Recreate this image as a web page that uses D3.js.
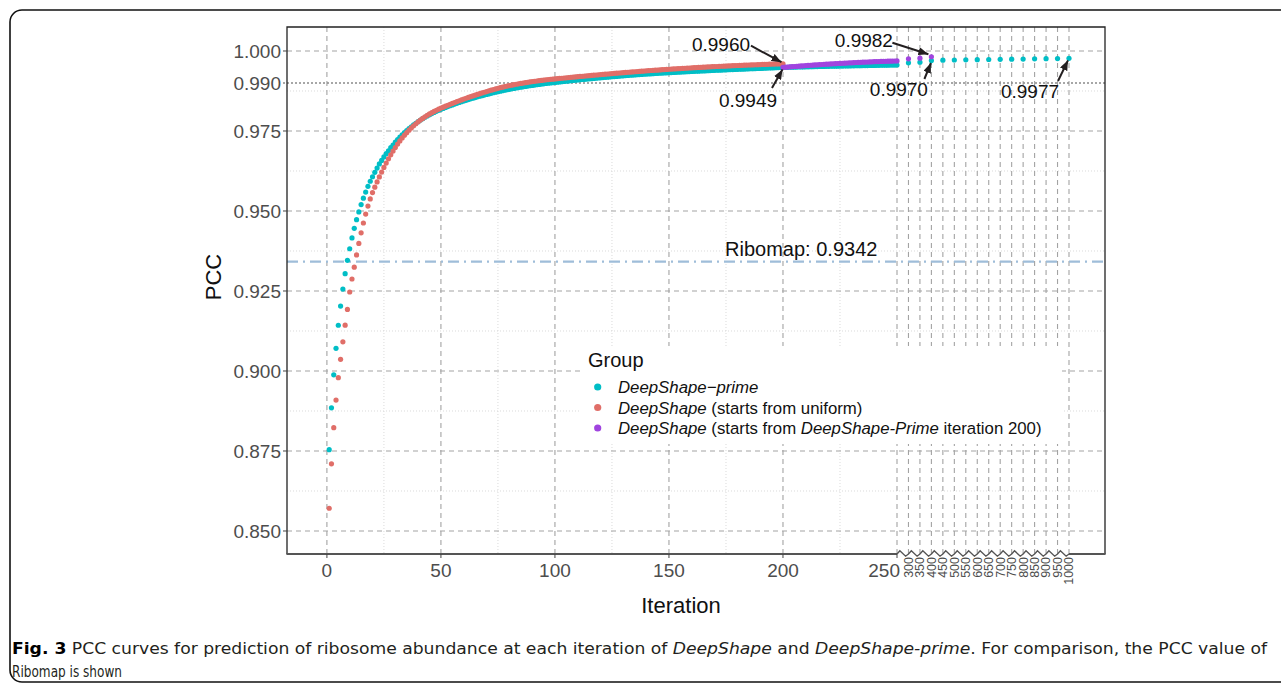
<!DOCTYPE html>
<html><head><meta charset="utf-8">
<script src="https://cdn.jsdelivr.net/npm/d3@7"></script>
<style>
body{margin:0;background:#fff;}
svg{display:block;font-family:"Liberation Sans",Arial,Helvetica,sans-serif;}
text{white-space:pre;}
</style></head><body>
<svg id="chart" width="1281" height="687"></svg>
<script>
// ---------------- DATA ----------------
const primeStartIter = 1;   // DeepShape-prime, iterations 1..250
const primeValues = [
0.8754,0.8885,0.8988,0.9071,0.9143,0.9203,0.9256,0.9304,0.9346,0.9382,
0.9416,0.9446,0.9473,0.9497,0.9520,0.9540,0.9559,0.9577,0.9593,0.9607,
0.9621,0.9634,0.9647,0.9658,0.9669,0.9679,0.9688,0.9698,0.9706,0.9715,
0.97230,0.97306,0.97378,0.97447,0.97512,0.97574,0.97633,0.97689,0.97742,0.97792,
0.97840,0.97886,0.97929,0.97970,0.98009,0.98046,0.98081,0.98115,0.98147,0.98177,
0.98206,0.98234,0.98262,0.98289,0.98315,0.98341,0.98366,0.98390,0.98414,0.98438,
0.98460,0.98483,0.98504,0.98526,0.98546,0.98567,0.98586,0.98605,0.98624,0.98642,
0.98660,0.98678,0.98695,0.98711,0.98728,0.98744,0.98759,0.98774,0.98789,0.98803,
0.98817,0.98830,0.98843,0.98856,0.98868,0.98880,0.98892,0.98903,0.98915,0.98925,
0.98936,0.98946,0.98956,0.98965,0.98975,0.98984,0.98993,0.99001,0.99010,0.99018,
0.99026,0.99034,0.99042,0.99050,0.99057,0.99065,0.99072,0.99080,0.99087,0.99094,
0.99101,0.99109,0.99116,0.99123,0.99130,0.99136,0.99143,0.99150,0.99157,0.99163,
0.99170,0.99176,0.99183,0.99189,0.99195,0.99201,0.99207,0.99213,0.99219,0.99225,
0.99231,0.99236,0.99242,0.99247,0.99253,0.99258,0.99263,0.99268,0.99273,0.99278,
0.99283,0.99288,0.99292,0.99297,0.99301,0.99306,0.99310,0.99314,0.99318,0.99322,
0.99326,0.99330,0.99334,0.99338,0.99342,0.99346,0.99349,0.99353,0.99357,0.99361,
0.99364,0.99368,0.99371,0.99375,0.99378,0.99382,0.99385,0.99389,0.99392,0.99395,
0.99399,0.99402,0.99405,0.99408,0.99412,0.99415,0.99418,0.99421,0.99424,0.99427,
0.99430,0.99433,0.99436,0.99439,0.99442,0.99445,0.99448,0.99451,0.99454,0.99457,
0.99460,0.99463,0.99466,0.99469,0.99472,0.99475,0.99478,0.99481,0.99484,0.99487,
0.99489,0.99491,0.99493,0.99494,0.99496,0.99498,0.99500,0.99502,0.99503,0.99505,
0.99507,0.99508,0.99510,0.99512,0.99513,0.99515,0.99517,0.99518,0.99520,0.99521,
0.99523,0.99524,0.99526,0.99527,0.99529,0.99530,0.99532,0.99533,0.99535,0.99536,
0.99538,0.99539,0.99540,0.99542,0.99543,0.99544,0.99546,0.99547,0.99548,0.99550,
0.99551,0.99552,0.99554,0.99555,0.99556,0.99557,0.99559,0.99560,0.99561,0.99562
];
const lateIters = [300,350,400,450,500,550,600,650,700,750,800,850,900,950,1000];
const primeLateValues = [0.99630,0.99650,0.99700,0.99712,0.99718,0.99724,0.99729,0.99734,0.99739,0.99744,0.99749,0.99754,0.99759,0.99764,0.99770];

const uniformStartIter = 1; // DeepShape from uniform, iterations 1..200
const uniformValues = [
0.8571,0.8710,0.8823,0.8909,0.8979,0.90366,0.90913,0.91431,0.91925,0.92469,
0.92875,0.93244,0.93628,0.93988,0.94319,0.94625,0.94903,0.95153,0.95378,0.95575,
0.95745,0.95909,0.96066,0.96217,0.96361,0.96499,0.96630,0.96755,0.96873,0.96985,
0.97091,0.97190,0.97283,0.97369,0.97449,0.97525,0.97596,0.97664,0.97727,0.97786,
0.97842,0.97894,0.97944,0.97990,0.98033,0.98074,0.98113,0.98149,0.98183,0.98215,
0.98246,0.98276,0.98305,0.98334,0.98362,0.98390,0.98418,0.98445,0.98471,0.98497,
0.98523,0.98548,0.98572,0.98596,0.98620,0.98643,0.98666,0.98689,0.98711,0.98733,
0.98754,0.98775,0.98795,0.98815,0.98835,0.98853,0.98870,0.98887,0.98903,0.98918,
0.98933,0.98947,0.98961,0.98974,0.98987,0.98999,0.99011,0.99022,0.99033,0.99043,
0.99053,0.99063,0.99072,0.99081,0.99090,0.99098,0.99106,0.99114,0.99121,0.99128,
0.99135,0.99142,0.99149,0.99156,0.99163,0.99170,0.99177,0.99184,0.99190,0.99197,
0.99204,0.99210,0.99217,0.99224,0.99230,0.99237,0.99243,0.99250,0.99256,0.99263,
0.99269,0.99276,0.99282,0.99288,0.99295,0.99301,0.99307,0.99313,0.99319,0.99324,
0.99330,0.99336,0.99341,0.99347,0.99352,0.99358,0.99363,0.99369,0.99374,0.99379,
0.99385,0.99390,0.99395,0.99400,0.99405,0.99410,0.99415,0.99420,0.99425,0.99430,
0.99434,0.99439,0.99443,0.99448,0.99452,0.99457,0.99461,0.99465,0.99469,0.99474,
0.99478,0.99482,0.99486,0.99490,0.99494,0.99498,0.99501,0.99505,0.99509,0.99513,
0.99516,0.99520,0.99523,0.99527,0.99530,0.99534,0.99537,0.99540,0.99543,0.99547,
0.99550,0.99553,0.99556,0.99559,0.99562,0.99565,0.99568,0.99571,0.99573,0.99576,
0.99579,0.99582,0.99584,0.99587,0.99590,0.99592,0.99595,0.99597,0.99600,0.99602
];

const fromPrimeStartIter = 200; // DeepShape from DeepShape-Prime iter 200, iterations 200..250
const fromPrimeValues = [
0.99487,0.99493,0.99499,0.99505,0.99511,0.99516,0.99522,0.99527,0.99533,0.99538,0.99543,
0.99549,0.99554,0.99559,0.99564,0.99569,0.99573,0.99578,0.99583,0.99587,0.99592,
0.99596,0.99601,0.99605,0.99609,0.99613,0.99617,0.99621,0.99625,0.99629,0.99632,
0.99636,0.99640,0.99643,0.99646,0.99650,0.99653,0.99656,0.99659,0.99662,0.99665,
0.99668,0.99671,0.99673,0.99676,0.99678,0.99681,0.99683,0.99685,0.99687,0.99690
];
const fromPrimeLateIters = [300,350,400];
const fromPrimeLateValues = [0.99755,0.99775,0.99820];

const ribomapPCC = 0.9342;
const ribomapLabel = "Ribomap: 0.9342";

const yTicks = [0.850,0.875,0.900,0.925,0.950,0.975,1.000];
const yTickLabels = ["0.850","0.875","0.900","0.925","0.950","0.975","1.000"];
const yMinorTicks = [0.8625,0.8875,0.9125,0.9375,0.9625,0.9875];
const yExtraTick = 0.990;
const yExtraLabel = "0.990";
const xTicksMain = [0,50,100,150,200,250];
const xMinorTicks = [25,75,125,175,225];
const xTicksLate = [300,350,400,450,500,550,600,650,700,750,800,850,900,950,1000];

const annotations = [
  {series:"uniform", iter:200, label:"0.9960"},
  {series:"prime", iter:200, label:"0.9949"},
  {series:"fromPrime", iter:400, label:"0.9982"},
  {series:"prime", iter:400, label:"0.9970"},
  {series:"prime", iter:1000, label:"0.9977"}
];

const legendTitle = "Group";
const legendLabels = [
  [{t:"DeepShape\u2212prime", i:true}],
  [{t:"DeepShape", i:true},{t:" (starts from uniform)"}],
  [{t:"DeepShape", i:true},{t:" (starts from "},{t:"DeepShape-Prime", i:true},{t:" iteration 200)"}]
];
const captionLine1 = [
  {t:"Fig. 3", b:true},{t:" PCC curves for prediction of ribosome abundance at each iteration of "},
  {t:"DeepShape", i:true},{t:" and "},{t:"DeepShape-prime", i:true},
  {t:". For comparison, the PCC value of"}
];
const captionLine2 = "Ribomap is shown";

// ---------------- LAYOUT / STYLE ----------------
const colors = {prime:"#00BEC6", uniform:"#E06E68", fromPrime:"#A044DF"};
const P = {l:287, r:1105, t:27, b:554};
const svg = d3.select("#chart");

const x = d3.scaleLinear().domain([-17.5, 250, 1157]).range([P.l, 897, P.r]);
const y = d3.scaleLinear().domain([0.84281, 1.0075]).range([P.b, P.t]);

function seq(start, vals){ return vals.map((v,k)=>({iter:start+k, v:v})); }
const series = {
  prime: seq(primeStartIter, primeValues).concat(lateIters.map((it,k)=>({iter:it, v:primeLateValues[k]}))),
  uniform: seq(uniformStartIter, uniformValues),
  fromPrime: seq(fromPrimeStartIter, fromPrimeValues).concat(fromPrimeLateIters.map((it,k)=>({iter:it, v:fromPrimeLateValues[k]})))
};

// outer frame
svg.append("rect").attr("x",10).attr("y",10).attr("width",1300).attr("height",672)
  .attr("rx",12).attr("fill","none").attr("stroke","#111").attr("stroke-width",1.6);

svg.append("defs").append("clipPath").attr("id","pclip").append("rect")
  .attr("x",P.l).attr("y",P.t).attr("width",P.r-P.l).attr("height",P.b-P.t);

const grid = svg.append("g").attr("clip-path","url(#pclip)");
grid.selectAll(".hmin").data(yMinorTicks).join("line")
  .attr("x1",P.l).attr("x2",P.r).attr("y1",d=>y(d)).attr("y2",d=>y(d))
  .attr("stroke","#d6d6d6").attr("stroke-width",0.9).attr("stroke-dasharray","1,2");
grid.selectAll(".vmin").data(xMinorTicks).join("line")
  .attr("y1",P.t).attr("y2",P.b).attr("x1",d=>x(d)).attr("x2",d=>x(d))
  .attr("stroke","#d6d6d6").attr("stroke-width",0.9).attr("stroke-dasharray","1,2");
grid.selectAll(".hmaj").data(yTicks).join("line")
  .attr("x1",P.l).attr("x2",P.r).attr("y1",d=>y(d)).attr("y2",d=>y(d))
  .attr("stroke","#a3a3a3").attr("stroke-width",1.1).attr("stroke-dasharray","5,4");
grid.selectAll(".vmaj").data(xTicksMain.concat(xTicksLate)).join("line")
  .attr("y1",P.t).attr("y2",P.b).attr("x1",d=>x(d)).attr("x2",d=>x(d))
  .attr("stroke","#a3a3a3").attr("stroke-width",1.1).attr("stroke-dasharray","5,4");
svg.append("line").attr("x1",283).attr("x2",P.r).attr("y1",y(yExtraTick)).attr("y2",y(yExtraTick))
  .attr("stroke","#8a8a8a").attr("stroke-width",1.3).attr("stroke-dasharray","2,2");

// ribomap line
grid.append("line").attr("x1",P.l).attr("x2",P.r).attr("y1",y(ribomapPCC)).attr("y2",y(ribomapPCC))
  .attr("stroke","#9fbdd9").attr("stroke-width",2.2).attr("stroke-dasharray","11,5,2,5");
svg.append("text").attr("x",x(208)).attr("y",y(ribomapPCC)-6).attr("text-anchor","middle")
  .attr("font-size",20).attr("fill","#111").text(ribomapLabel);

// points
const pts = svg.append("g").attr("clip-path","url(#pclip)");
["prime","uniform","fromPrime"].forEach(key=>{
  pts.append("g").selectAll("circle").data(series[key]).join("circle")
    .attr("cx",d=>x(d.iter)).attr("cy",d=>y(d.v)).attr("r",2.6).attr("fill",colors[key]);
});

// panel border
svg.append("path").attr("d",`M${P.l},${P.b} L${P.l},${P.t} L${P.r},${P.t} L${P.r},${P.b}`)
  .attr("fill","none").attr("stroke","#222").attr("stroke-width",1.3);
const zx0 = x(250), zx1 = x(1000);
svg.append("line").attr("x1",P.l-0.6).attr("x2",zx0).attr("y1",P.b).attr("y2",P.b).attr("stroke","#555").attr("stroke-width",1.8);
svg.append("line").attr("x1",zx1).attr("x2",P.r+0.6).attr("y1",P.b).attr("y2",P.b).attr("stroke","#555").attr("stroke-width",1.8);
const brk = [250].concat(xTicksLate);
let zz = `M${zx0},${P.b}`;
for(let k=0;k<brk.length-1;k++){
  const a=x(brk[k]), b=x(brk[k+1]), w=b-a;
  zz += ` L${a+w*0.25},${P.b-3.2} L${a+w*0.75},${P.b+2.2} L${b},${P.b}`;
}
svg.append("path").attr("d",zz).attr("fill","none").attr("stroke","#555").attr("stroke-width",1.4);

// y axis
svg.selectAll(".yt").data(yTicks).join("line")
  .attr("x1",283).attr("x2",P.l).attr("y1",d=>y(d)).attr("y2",d=>y(d)).attr("stroke","#444").attr("stroke-width",1);
svg.selectAll(".yl").data(yTicks).join("text")
  .attr("x",281).attr("y",d=>y(d)+6.8).attr("text-anchor","end").attr("font-size",19).attr("fill","#4d4d4d")
  .text((d,k)=>yTickLabels[k]);
svg.append("text").attr("x",281).attr("y",y(yExtraTick)+6.8).attr("text-anchor","end")
  .attr("font-size",19).attr("fill","#4d4d4d").text(yExtraLabel);

// x axis
svg.selectAll(".xt").data(xTicksMain).join("line")
  .attr("x1",d=>x(d)).attr("x2",d=>x(d)).attr("y1",P.b).attr("y2",P.b+4).attr("stroke","#444").attr("stroke-width",1);
svg.selectAll(".xl").data(xTicksMain).join("text")
  .attr("x",d=> d===250 ? x(d)+3 : x(d)).attr("y",577)
  .attr("text-anchor",d=> d===250 ? "end" : "middle")
  .attr("font-size",19).attr("fill","#4d4d4d").text(d=>d);
svg.selectAll(".xll").data(xTicksLate).join("text")
  .attr("transform",d=>`translate(${x(d)},${P.b+3}) rotate(-90)`)
  .attr("dy","0.35em").attr("text-anchor","end").attr("font-size",12.5).attr("fill","#4d4d4d").text(d=>d);

svg.append("text").attr("transform","translate(221,277) rotate(-90)").attr("text-anchor","middle")
  .attr("font-size",22).attr("fill","#111").text("PCC");
svg.append("text").attr("x",681).attr("y",613).attr("text-anchor","middle")
  .attr("font-size",22).attr("fill","#111").text("Iteration");

// annotations
const annLayout = [
  {tx:-62, ty:-13, sx:-32, sy:-18, ex:-1.5, ey:-1.5},
  {tx:-35, ty:39.5, sx:-11, sy:20.5, ex:-0.5, ey:2},
  {tx:-67.5, ty:-10, sx:-39, sy:-14, ex:-3, ey:-2.5},
  {tx:-32.5, ty:35.4, sx:-7, sy:18.4, ex:-0.5, ey:2.4},
  {tx:-39, ty:39.6, sx:-11, sy:22.6, ex:-1, ey:2}
];
const defs = svg.select("defs");
defs.append("marker").attr("id","ah").attr("viewBox","0 0 10 8").attr("refX",10).attr("refY",4)
  .attr("markerWidth",10).attr("markerHeight",8).attr("markerUnits","userSpaceOnUse").attr("orient","auto")
  .append("path").attr("d","M0,0 L10,4 L0,8 Z").attr("fill","#231f20");
annotations.forEach((a,k)=>{
  const pt = series[a.series].find(d=>d.iter===a.iter);
  const px = x(pt.iter), py = y(pt.v), L = annLayout[k];
  svg.append("line").attr("x1",px+L.sx).attr("y1",py+L.sy).attr("x2",px+L.ex).attr("y2",py+L.ey)
    .attr("stroke","#231f20").attr("stroke-width",2).attr("marker-end","url(#ah)");
  svg.append("text").attr("x",px+L.tx).attr("y",py+L.ty).attr("text-anchor","middle")
    .attr("font-size",19).attr("fill","#111").text(a.label);
});

// legend
svg.append("rect").attr("x",580).attr("y",346).attr("width",482).attr("height",98).attr("fill","#fff");
svg.append("text").attr("x",588).attr("y",367).attr("font-size",20).attr("fill","#111").text(legendTitle);
const legKeys = ["prime","uniform","fromPrime"];
legendLabels.forEach((segs,k)=>{
  const cy = 387 + k*20.5;
  svg.append("circle").attr("cx",597.7).attr("cy",cy).attr("r",3.6).attr("fill",colors[legKeys[k]]);
  const t = svg.append("text").attr("x",618).attr("y",cy+6).attr("font-size",16.8).attr("fill","#111");
  segs.forEach(s=>t.append("tspan").attr("font-style",s.i?"italic":"normal").text(s.t));
});

// caption
const capFont = '"DejaVu Sans Condensed","Liberation Sans",sans-serif';
const c1 = svg.append("text").attr("x",12).attr("y",654).attr("font-size",16).attr("fill","#231f20")
  .attr("font-family",capFont).attr("textLength",1255).attr("lengthAdjust","spacingAndGlyphs");
captionLine1.forEach(s=>c1.append("tspan").attr("font-weight",s.b?"bold":"normal").attr("fill",s.b?"#000":"#231f20")
  .attr("font-style",s.i?"italic":"normal").text(s.t));
svg.append("text").attr("x",12).attr("y",677).attr("font-size",16).attr("fill","#231f20")
  .attr("font-family",capFont).attr("textLength",110).attr("lengthAdjust","spacingAndGlyphs").text(captionLine2);
</script>
</body></html>
